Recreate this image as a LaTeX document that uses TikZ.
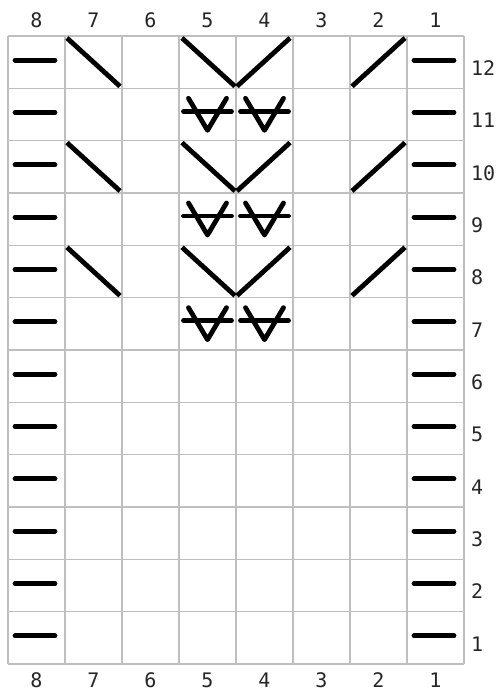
\documentclass[tikz,border=0pt]{standalone}
\usepackage{fontspec}
\newfontfamily\numfont{DejaVu Sans Mono}
\begin{document}
\begin{tikzpicture}[x=1pt,y=-1pt,
  gridline/.style={draw=black!25,line width=1.6pt},
  stitch/.style={draw=black,line width=4.8pt,line cap=round},
  numlabel/.style={font=\numfont\fontsize{20}{20}\selectfont,text=black!85,inner sep=0pt}]
\useasboundingbox (0,0) rectangle (501,694);
\fill[white] (0,0) rectangle (501,694);
\def\cw{57}
\def\rh{52.333}
% grid
\foreach \i in {0,...,8}{
  \draw[gridline] ({8+\cw*\i},36) -- ({8+\cw*\i},664);
}
\foreach \j in {0,...,12}{
  \draw[gridline] (8,{36+\rh*\j}) -- (464,{36+\rh*\j});
}
% column labels
\foreach \c in {1,...,8}{
  \node[numlabel] (top\c) at ({8+\cw*(8.5-\c)},20) {\c};
  \node[numlabel] (bot\c) at ({8+\cw*(8.5-\c)},680) {\c};
}
% row labels
\foreach \r in {1,...,12}{
  \node[numlabel,anchor=west] (row\r) at (471,{36+\rh*(12.5-\r)+6}) {\r};
}
% purl dashes in columns 8 and 1
\foreach \r in {1,...,12}{
  \draw[stitch] (15,{36+\rh*(12.5-\r)-2}) -- (55,{36+\rh*(12.5-\r)-2});
  \draw[stitch] (414,{36+\rh*(12.5-\r)-2}) -- (454,{36+\rh*(12.5-\r)-2});
}
% decreases in rows 12, 10, 8
\foreach \r in {12,10,8}{
  \pgfmathsetmacro{\yt}{36+\rh*(12-\r)+2}
  \pgfmathsetmacro{\yb}{36+\rh*(13-\r)-2}
  % column 7: left slant
  \draw[stitch,line cap=butt] (67,\yt) -- (120,\yb);
  % column 5: left slant
  \draw[stitch,line cap=butt] (182,\yt) -- (235,\yb);
  % column 4: right slant
  \draw[stitch,line cap=butt] (237,\yb) -- (290,\yt);
  % column 2: right slant
  \draw[stitch,line cap=butt] (352,\yb) -- (405,\yt);
}
% crossed symbols in rows 11, 9, 7 (columns 5 and 4)
\foreach \r in {11,9,7}{
  \pgfmathsetmacro{\ct}{36+\rh*(12-\r)}
  \foreach \cx in {207.5,264.5}{
    \draw[stitch,line join=round] (\cx-19,\ct+10) -- (\cx,\ct+42) -- (\cx+19,\ct+10);
    \draw[stitch] (\cx-24,\ct+23) -- (\cx+24,\ct+23);
  }
}
\end{tikzpicture}
\end{document}
